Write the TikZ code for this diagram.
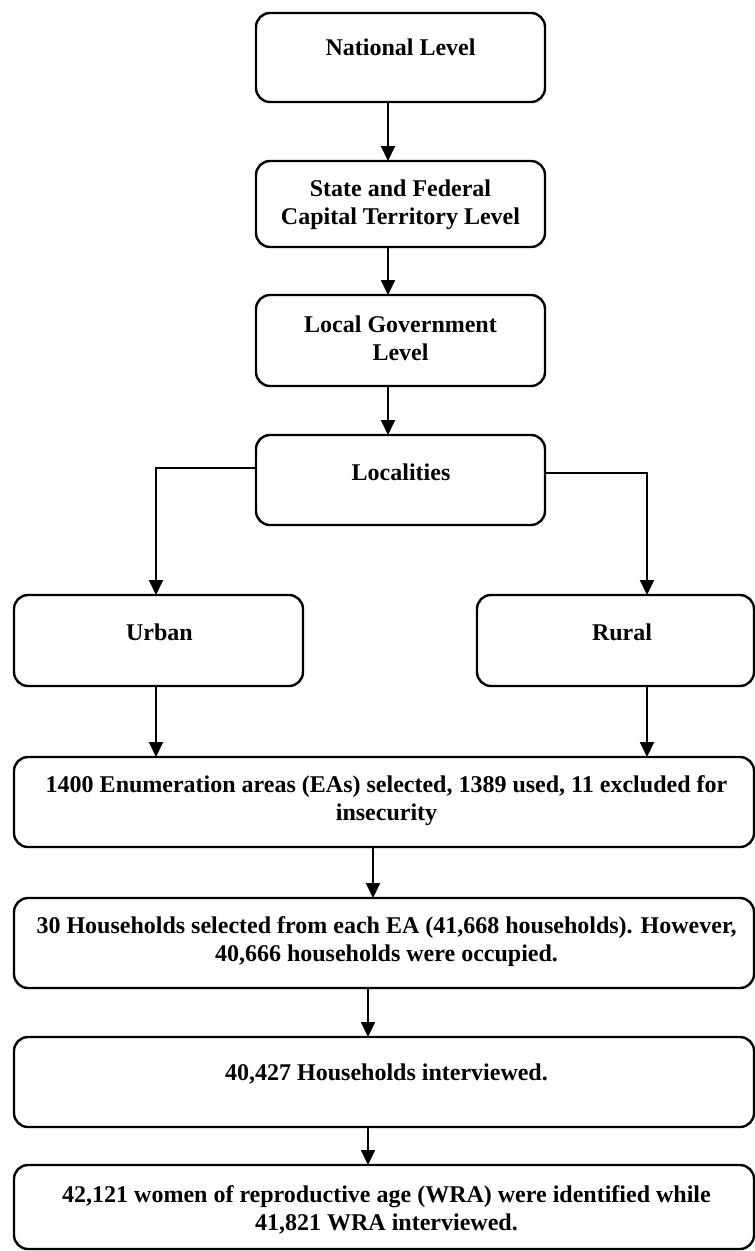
\documentclass[tikz,border=0pt]{standalone}
\usepackage{fontspec}
\setmainfont{Liberation Serif}
\usetikzlibrary{arrows.meta}
\begin{document}
\begin{tikzpicture}[x=1pt,y=-1pt,
  box/.style={draw, line width=2.4pt, rounded corners=14pt, anchor=north west, inner sep=0pt, outer sep=0pt},
  txt/.style={font=\fontsize{24}{28.5}\selectfont\bfseries, align=center, inner sep=0pt, anchor=north},
  arr/.style={line width=2pt, -{Triangle[width=14pt,length=15pt]}}]
\clip (0,0) rectangle (755,1251);
\fill[white] (0,0) rectangle (755,1251);
% boxes
\node[box, minimum width=289pt, minimum height=89pt] (n1) at (256,13) {};
\node[box, minimum width=289pt, minimum height=86pt] (n2) at (256,161) {};
\node[box, minimum width=289pt, minimum height=91pt] (n3) at (256,295) {};
\node[box, minimum width=289pt, minimum height=90pt] (n4) at (256,435) {};
\node[box, minimum width=289pt, minimum height=91pt] (urban) at (14,595) {};
\node[box, minimum width=277pt, minimum height=91pt] (rural) at (477,595) {};
\node[box, minimum width=740pt, minimum height=90pt] (ea) at (14,757) {};
\node[box, minimum width=740pt, minimum height=90pt] (hh) at (14,898) {};
\node[box, minimum width=740pt, minimum height=90pt] (hi) at (14,1037) {};
\node[box, minimum width=740pt, minimum height=84pt] (wra) at (14,1165) {};
% texts
\node[txt] (t1) at (400.5,35) {\strut National Level};
\node[txt] (t2) at (400.5,176) {\strut State and Federal\\\strut Capital Territory Level};
\node[txt] (t3) at (400.5,312) {\strut Local Government\\\strut Level};
\node[txt] (t4) at (401,460) {\strut Localities};
\node[txt] (t5) at (159.5,620) {\strut Urban};
\node[txt] (t6) at (622,620) {\strut Rural};
\node[txt] (t7) at (386.5,772) {\strut 1400 Enumeration areas (EAs) selected, 1389 used, 11 excluded for\\\strut insecurity};
\node[txt] (t8) at (386.5,913) {\strut 30 Households selected from each EA (41,668 households). However,\\\strut 40,666 households were occupied.};
\node[txt] (t9) at (386.5,1060) {\strut 40,427 Households interviewed.};
\node[txt] (t10) at (386.5,1182) {\strut 42,121 women of reproductive age (WRA) were identified while\\\strut 41,821 WRA interviewed.};
% column / row references
\coordinate (xa) at (388,0);
\coordinate (xu) at (156,0);
\coordinate (xr) at (647,0);
\coordinate (xe) at (373,0);
\coordinate (xh) at (368,0);
\coordinate (yl) at (0,468);
\coordinate (yr) at (0,473);
% connectors
\draw[arr] (n1.south -| xa) -- (n2.north -| xa);
\draw[arr] (n2.south -| xa) -- (n3.north -| xa);
\draw[arr] (n3.south -| xa) -- (n4.north -| xa);
\draw[arr] (n4.west |- yl) -| (urban.north -| xu);
\draw[arr] (n4.east |- yr) -| (rural.north -| xr);
\draw[arr] (urban.south -| xu) -- (ea.north -| xu);
\draw[arr] (rural.south -| xr) -- (ea.north -| xr);
\draw[arr] (ea.south -| xe) -- (hh.north -| xe);
\draw[arr] (hh.south -| xh) -- (hi.north -| xh);
\draw[arr] (hi.south -| xh) -- (wra.north -| xh);
\end{tikzpicture}
\end{document}
